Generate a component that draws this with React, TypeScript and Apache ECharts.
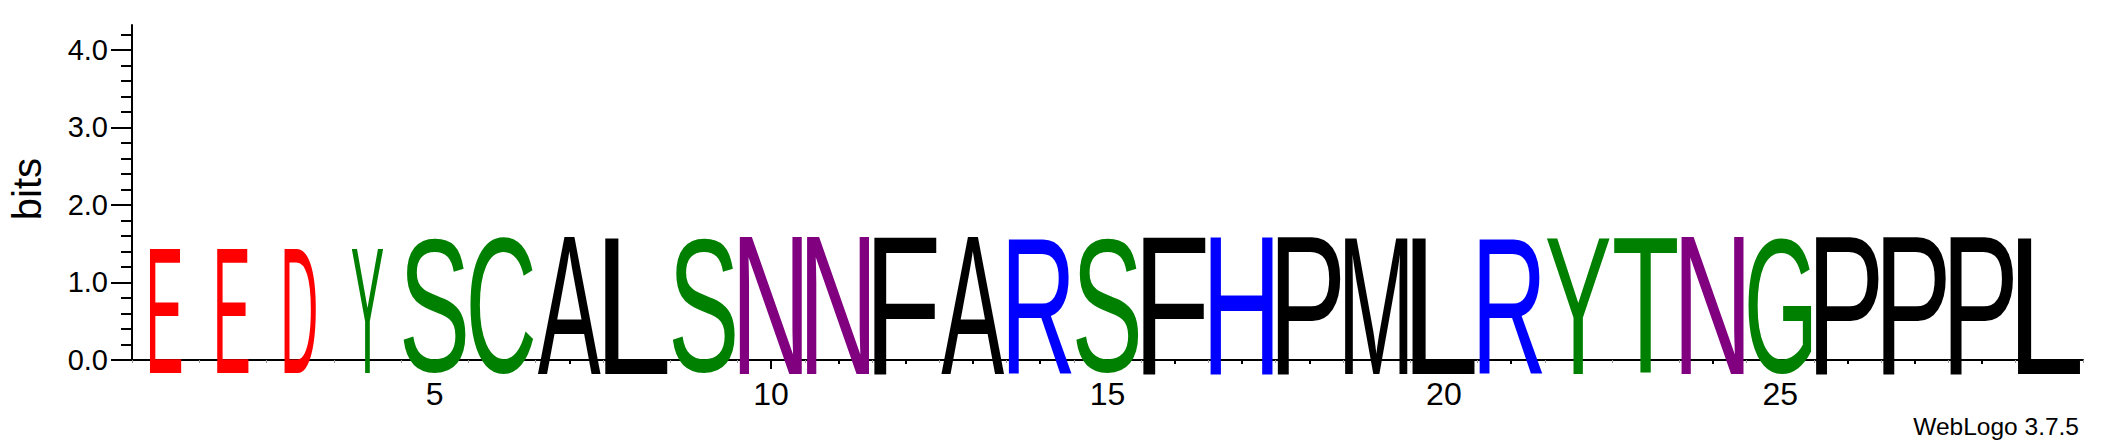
import React, { useEffect, useRef } from "react";
import * as echarts from "echarts";

// sequence positions (x categories)
const positions = [
  "1", "2", "3", "4", "5", "6", "7", "8", "9", "10",
  "11", "12", "13", "14", "15", "16", "17", "18", "19", "20",
  "21", "22", "23", "24", "25", "26", "27", "28", "29",
];

// one residue per stack
const residues = [
  "E", "E", "D", "Y", "S", "C", "A", "L", "S", "N",
  "N", "F", "A", "R", "S", "F", "H", "P", "M", "L",
  "R", "Y", "T", "N", "G", "P", "P", "P", "L",
];

// stack height in bits
const bits = [
  1.61, 1.61, 1.61, 1.61, 1.76, 1.76, 1.76, 1.76, 1.76, 1.76,
  1.76, 1.76, 1.76, 1.76, 1.76, 1.76, 1.76, 1.76, 1.76, 1.76,
  1.76, 1.76, 1.76, 1.76, 1.76, 1.76, 1.76, 1.76, 1.76,
];

// fraction of sequences with a residue at the position (stack width scaling)
const occupancy = [
  0.5, 0.5, 0.5, 0.5, 1, 1, 1, 1, 1, 1,
  1, 1, 1, 1, 1, 1, 1, 1, 1, 1,
  1, 1, 1, 1, 1, 1, 1, 1, 1,
];

const yMajorTicks = [0, 1, 2, 3, 4];
const yTickLabels = ["0.0", "1.0", "2.0", "3.0", "4.0"];
const yMinorTicks = [
  0, 0.2, 0.4, 0.6, 0.8, 1, 1.2, 1.4, 1.6, 1.8, 2, 2.2,
  2.4, 2.6, 2.8, 3, 3.2, 3.4, 3.6, 3.8, 4, 4.2,
];
const Y_MAX = 4.3219; // log2(20)

// WebLogo "chemistry" colour scheme
const colorOf = (r: string) => {
  if ("GSTYC".includes(r)) return "#008000";
  if ("NQ".includes(r)) return "#800080";
  if ("KRH".includes(r)) return "#0000ff";
  if ("DE".includes(r)) return "#ff0000";
  return "#000000";
};

const FONT_PX = 100;
const FONT = `${FONT_PX}px "Liberation Sans"`;
const inkCache: Record<string, { x0: number; x1: number; y0: number; y1: number }> = {};

// ink box of a glyph relative to a left / middle anchored text
function glyphInk(ch: string) {
  if (inkCache[ch]) return inkCache[ch];
  const ctx = document.createElement("canvas").getContext("2d")!;
  ctx.font = FONT;
  ctx.textAlign = "left";
  ctx.textBaseline = "middle";
  const m = ctx.measureText(ch);
  const ink = {
    x0: -m.actualBoundingBoxLeft,
    x1: m.actualBoundingBoxRight,
    y0: -m.actualBoundingBoxAscent,
    y1: m.actualBoundingBoxDescent,
  };
  inkCache[ch] = ink;
  return ink;
}

const axisColor = "#000000";

const App = () => {
  const chartRef = useRef<HTMLDivElement>(null);

  useEffect(() => {
    if (!chartRef.current) return;
    document.body.style.margin = "0";
    const chart = echarts.init(chartRef.current, null, { renderer: "svg" });

    const option: any = {
      animation: false,
      grid: { left: 132, right: 22, top: 25, bottom: 84 },
      xAxis: [
        {
          type: "category",
          data: positions,
          axisLine: { show: true, lineStyle: { color: axisColor, width: 2 } },
          axisTick: {
            show: true,
            interval: 0,
            alignWithLabel: true,
            length: 4,
            lineStyle: { color: axisColor, width: 2 },
          },
          axisLabel: {
            interval: (index: number) => (index + 1) % 5 === 0,
            margin: 18,
            fontSize: 32,
            fontFamily: "Liberation Sans",
            color: "#000",
          },
          splitLine: { show: false },
        },
        {
          // longer ticks at every fifth position
          type: "category",
          data: positions,
          position: "bottom",
          offset: 0,
          axisLine: { show: false },
          axisTick: {
            show: true,
            interval: (index: number) => (index + 1) % 5 === 0,
            alignWithLabel: true,
            length: 9,
            lineStyle: { color: axisColor, width: 2 },
          },
          axisLabel: { show: false },
          splitLine: { show: false },
        },
        {
          // faint marks at stack boundaries
          type: "category",
          data: positions,
          position: "bottom",
          offset: 0,
          axisLine: { show: false },
          axisTick: {
            show: true,
            interval: 0,
            alignWithLabel: false,
            length: 3,
            lineStyle: { color: "#9a9a9a", width: 1 },
          },
          axisLabel: { show: false },
          splitLine: { show: false },
        },
      ],
      yAxis: [
        {
          type: "value",
          min: 0,
          max: Y_MAX,
          position: "left",
          offset: 0,
          axisLine: { show: true, lineStyle: { color: axisColor, width: 2 } },
          axisTick: {
            show: true,
            customValues: yMinorTicks,
            length: 11,
            lineStyle: { color: axisColor, width: 2 },
          },
          axisLabel: { show: false },
          splitLine: { show: false },
        },
        {
          type: "value",
          min: 0,
          max: Y_MAX,
          position: "left",
          offset: 0,
          axisLine: { show: false },
          axisTick: {
            show: true,
            customValues: yMajorTicks,
            length: 21,
            lineStyle: { color: axisColor, width: 2 },
          },
          axisLabel: {
            customValues: yMajorTicks,
            formatter: (v: number) => yTickLabels[yMajorTicks.indexOf(Math.round(v))] ?? "",
            margin: 24,
            fontSize: 29,
            fontFamily: "Liberation Sans",
            color: "#000",
          },
          splitLine: { show: false },
        },
      ],
      graphic: [
        {
          type: "text",
          x: 47,
          y: 189,
          rotation: Math.PI / 2,
          style: {
            text: "bits",
            font: '40px "Liberation Sans"',
            fill: "#000",
            align: "center",
            verticalAlign: "bottom",
          },
        },
        {
          type: "text",
          x: 2079,
          y: 439,
          style: {
            text: "WebLogo 3.7.5",
            font: '24.5px "Liberation Sans"',
            fill: "#000",
            align: "right",
            verticalAlign: "bottom",
          },
        },
      ],
      series: [
        {
          type: "custom",
          xAxisIndex: 0,
          yAxisIndex: 0,
          silent: true,
          data: positions.map((_, i) => [i, bits[i]]),
          renderItem: (params: any, api: any) => {
            const i = params.dataIndex;
            const ch = residues[i];
            const top = api.coord([api.value(0), api.value(1)]);
            const base = api.coord([api.value(0), 0])[1];
            const band = api.size([1, 0])[0];
            const w = band * 0.94 * occupancy[i];
            const h = base - top[1];
            const ink = glyphInk(ch);
            const sx = w / (ink.x1 - ink.x0);
            const sy = h / (ink.y1 - ink.y0);
            return {
              type: "text",
              x: top[0] - w / 2 - ink.x0 * sx,
              y: top[1] - ink.y0 * sy,
              scaleX: sx,
              scaleY: sy,
              style: {
                legacy: false,
                text: ch,
                font: FONT,
                fill: colorOf(ch),
                stroke: "none",
                lineWidth: 0,
                align: "left",
                verticalAlign: "middle",
              },
            };
          },
        },
      ],
    };

    chart.setOption(option);

    return () => {
      chart.dispose();
    };
  }, []);

  return <div ref={chartRef} style={{ width: "2105px", height: "444px" }} />;
};

export default App;
